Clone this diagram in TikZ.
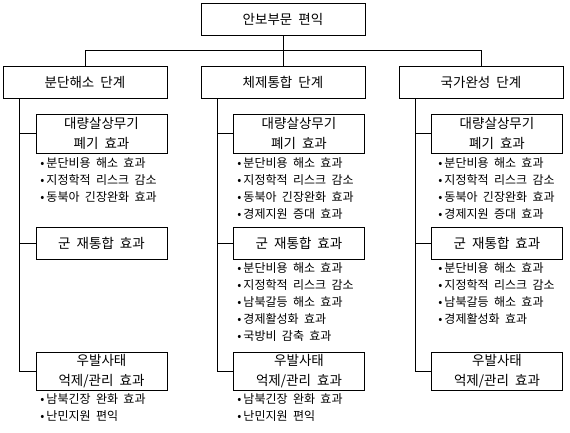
\documentclass[tikz,border=0pt]{standalone}
\usepackage{fontspec}
\setmainfont{Noto Sans CJK KR}[WordSpace=2]
\begin{document}
\begin{tikzpicture}[x=1pt,y=-1pt, line width=0.8pt,
  box/.style={draw, minimum width=164pt, minimum height=32pt, inner sep=0pt, font=\fontsize{13.5}{14}\selectfont},
  subbox/.style={draw, minimum width=131pt, inner sep=0pt, align=center, font=\fontsize{13.5}{20}\selectfont},
  item/.style={anchor=base west, inner sep=0pt, font=\fontsize{12}{13}\selectfont}]
\useasboundingbox (0,0) rectangle (570,432);
% top and stage boxes
\node[box] (top) at (283,19) {안보부문 편익};
\node[box] (s1) at (85,82) {분단해소 단계};
\node[box] (s2) at (283,82) {체제통합 단계};
\node[box] (s3) at (481,82) {국가완성 단계};
\coordinate (j) at (283,50);
\draw (top.south) -- (s2.north);
\draw (j) -| (s1.north);
\draw (j) -| (s3.north);
% sub boxes
\node[subbox, minimum height=39pt] (a1) at (101.5,133.5) {대량살상무기\\폐기 효과};
\node[subbox, minimum height=39pt] (a2) at (299,133.5) {대량살상무기\\폐기 효과};
\node[subbox, minimum height=39pt] (a3) at (497,133.5) {대량살상무기\\폐기 효과};
\node[subbox, minimum height=32pt] (b1) at (101.5,243) {군 재통합 효과};
\node[subbox, minimum height=32pt] (b2) at (299,243) {군 재통합 효과};
\node[subbox, minimum height=32pt] (b3) at (497,243) {군 재통합 효과};
\node[subbox, minimum height=38pt] (c1) at (101.5,371) {우발사태\\억제/관리 효과};
\node[subbox, minimum height=38pt] (c2) at (299,371) {우발사태\\억제/관리 효과};
\node[subbox, minimum height=38pt] (c3) at (497,371) {우발사태\\억제/관리 효과};
% spines
\foreach \k in {1,2,3}{
  \coordinate (p\k) at ([xshift=17pt]s\k.south west);
  \draw (p\k) |- (c\k.west);
  \draw (a\k.west) -- (a\k.west -| p\k);
  \draw (b\k.west) -- (b\k.west -| p\k);
}
% bullet items
\foreach \t [count=\i] in {분단비용 해소 효과, 지정학적 리스크 감소, 동북아 긴장완화 효과}
  \node[item] (ia1-\i) at (40,150.5+17*\i) {•\hspace{2pt}\t};
\foreach \t [count=\i] in {남북긴장 완화 효과, 난민지원 편익}
  \node[item] (ic1-\i) at (40,386.5+17*\i) {•\hspace{2pt}\t};
\foreach \t [count=\i] in {분단비용 해소 효과, 지정학적 리스크 감소, 동북아 긴장완화 효과, 경제지원 증대 효과}
  \node[item] (ia2-\i) at (237,150.5+17*\i) {•\hspace{2pt}\t};
\foreach \t [count=\i] in {분단비용 해소 효과, 지정학적 리스크 감소, 남북갈등 해소 효과, 경제활성화 효과, 국방비 감축 효과}
  \node[item] (ib2-\i) at (237,255.5+17*\i) {•\hspace{2pt}\t};
\foreach \t [count=\i] in {남북긴장 완화 효과, 난민지원 편익}
  \node[item] (ic2-\i) at (237,386.5+17*\i) {•\hspace{2pt}\t};
\foreach \t [count=\i] in {분단비용 해소 효과, 지정학적 리스크 감소, 동북아 긴장완화 효과, 경제지원 증대 효과}
  \node[item] (ia3-\i) at (438,150.5+17*\i) {•\hspace{2pt}\t};
\foreach \t [count=\i] in {분단비용 해소 효과, 지정학적 리스크 감소, 남북갈등 해소 효과, 경제활성화 효과}
  \node[item] (ib3-\i) at (438,255.5+17*\i) {•\hspace{2pt}\t};
\end{tikzpicture}
\end{document}
